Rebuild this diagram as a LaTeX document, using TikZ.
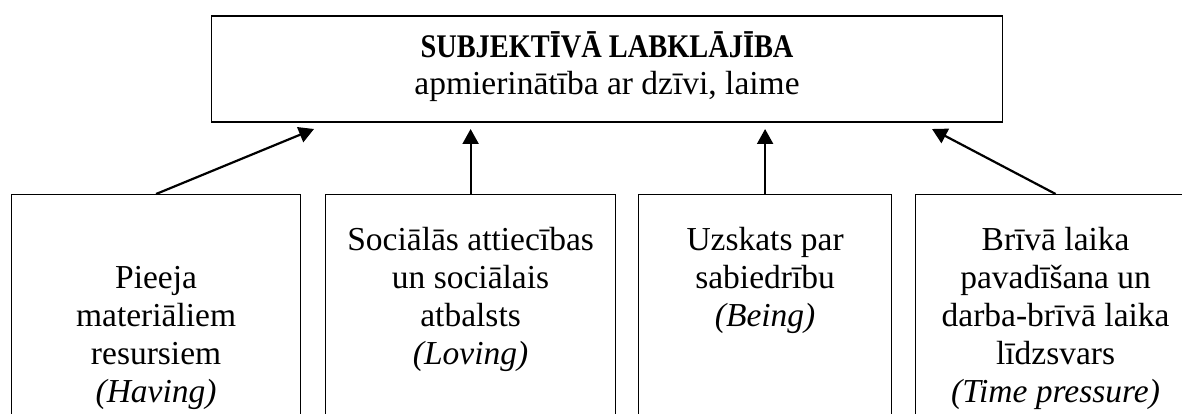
\documentclass[tikz,border=0pt]{standalone}
\usepackage{fontspec}
\usepackage{graphicx}
\setmainfont{Liberation Serif}
\usetikzlibrary{shapes,positioning,calc,arrows.meta}

\begin{document}
\begin{tikzpicture}[x=1pt, y=-1pt,
        box/.style={rectangle, draw, line width=1.2pt, anchor=north west, minimum height=240pt, inner sep=0pt},
        lbl/.style={align=center, inner sep=0pt, font=\fontsize{33.5}{38}\selectfont},
        arr/.style={line width=2.2pt, -{Triangle[length=15pt,width=16pt]}}]
        \path [fill=white] (0,0) rectangle (1182,414);
        \useasboundingbox (0,0) rectangle (1182,414);

        % top box
        \node [rectangle, draw, line width=1.2pt, minimum width=791pt, minimum height=106pt, inner sep=0pt, align=center,
            font=\fontsize{33.5}{37}\selectfont] (swb) at (607,69) {
            \scalebox{0.86}[1]{\fontsize{33}{37}\selectfont\bfseries SUBJEKTĪVĀ LABKLĀJĪBA}\strut\\
            apmierinātība ar dzīvi, laime\strut
        };

        % bottom boxes
        \node [box, minimum width=289pt] (having) at (11,194) {};
        \node [box, minimum width=290pt] (loving) at (325,194) {};
        \node [box, minimum width=253pt] (being) at (638,194) {};
        \node [box, minimum width=280pt] (timep) at (915,194) {};

        \node [lbl, below=67.4pt of having.north] (havingtxt) {\strut Pieeja\\materiāliem\\resursiem\\\textit{(Having)}};
        \node [lbl, below=29.4pt of loving.north] (lovingtxt) {\strut Sociālās attiecības\\un sociālais\\atbalsts\\\textit{(Loving)}};
        \node [lbl, below=29.4pt of being.north] (beingtxt) {\strut Uzskats par\\sabiedrību\\\textit{(Being)}};
        \node [lbl, below=29.4pt of timep.north] (timeptxt) {\strut Brīvā laika\\pavadīšana un\\darba-brīvā laika\\līdzsvars\\\textit{(Time pressure)}};

        % arrows
        \coordinate (tipline) at (0,129);
        \coordinate (t1) at (314,129);
        \coordinate (t4) at (932,129);
        \draw [arr] (having.north) -- (t1);
        \draw [arr] (loving.north) -- (loving.north |- tipline);
        \draw [arr] (being.north) -- (being.north |- tipline);
        \draw [arr] (timep.north) -- (t4);
    \end{tikzpicture}
\end{document}
